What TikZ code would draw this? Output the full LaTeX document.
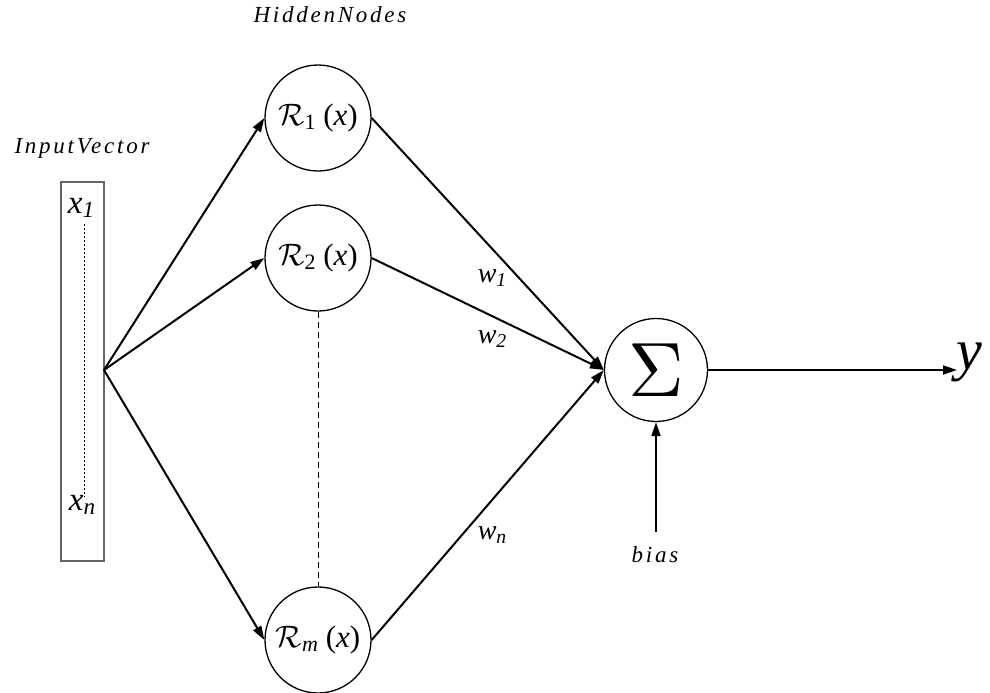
\documentclass[tikz,border=0pt]{standalone}
\usepackage{fontspec}
\setmainfont{Liberation Serif}
\usetikzlibrary{arrows.meta}
\newcommand\lbl[1]{{\addfontfeatures{LetterSpace=12}\itshape #1}}
\newcommand\subs[2]{\itshape #1\raisebox{-0.3ex}{\fontsize{0.7em}{0.7em}\selectfont #2}}
\newcommand\calR{\scalebox{3.1}{\fontsize{10}{12}\selectfont$\mathcal{R}$}}
\begin{document}
\begin{tikzpicture}[x=1pt,y=-1pt,
  hid/.style={circle,draw,line width=1.3pt,minimum size=106pt,inner sep=0pt,font=\fontsize{31}{33}\selectfont},
  conn/.style={line width=2pt,-{Triangle[length=14pt,width=9pt]}},
  lab/.style={font=\fontsize{23}{26}\selectfont,inner sep=0pt}]
\useasboundingbox (0,0) rectangle (990,693);
% input box
\node[draw=black!60,line width=1.5pt,minimum width=43pt,minimum height=379pt,inner sep=0pt] (box) at (82.5,371.5) {};
\node[font=\fontsize{33}{35}\selectfont,inner sep=0pt] (x1) at (81,208) {\subs{x}{1}};
\node[font=\fontsize{33}{35}\selectfont,inner sep=0pt] (xn) at (82,505) {\subs{x}{\itshape n}};
\coordinate (d1) at (84,224);
\coordinate (d2) at (84,497);
\draw[line width=0.8pt,dash pattern=on 2pt off 2pt] (d1) -- (d2);
\coordinate (fan) at (104,370);
% hidden nodes
\node[hid] (r1) at (318,118) {\calR\raisebox{-0.3ex}{\fontsize{22}{22}\selectfont 1} (\textit{x})};
\node[hid] (r2) at (318,258) {\calR\raisebox{-0.3ex}{\fontsize{22}{22}\selectfont 2} (\textit{x})};
\node[hid] (rm) at (318,640) {\calR\raisebox{-0.3ex}{\fontsize{22}{22}\selectfont\itshape m} (\textit{x})};
\draw[line width=1pt,dash pattern=on 6pt off 4pt] (r2.south) -- (rm.north);
% sum
\node[circle,draw,line width=1.3pt,minimum size=103pt,inner sep=0pt] (sum) at (656,370) {\scalebox{7.7}{\fontsize{10}{12}\selectfont$\Sigma$}};
% labels
\node[lab] (hn) at (330,15) {\lbl{HiddenNodes}};
\node[lab] (iv) at (82,148) {\lbl{InputVector}};
\node[lab] (bias) at (655,555) {\lbl{bias}};
\node[font=\fontsize{28}{30}\selectfont,inner sep=0pt] (w1) at (492,278) {\subs{w}{1}};
\node[font=\fontsize{28}{30}\selectfont,inner sep=0pt] (w2) at (492,339) {\subs{w}{2}};
\node[font=\fontsize{28}{30}\selectfont,inner sep=0pt] (wn) at (492,535) {\subs{w}{\itshape n}};
\node[font=\fontsize{58}{58}\selectfont\itshape,inner sep=0pt,anchor=west] (y) at (956,362) {y};
% connectors
\draw[conn] (fan) -- (r1.west);
\draw[conn] (fan) -- (r2.west);
\draw[conn] (fan) -- (rm.west);
\draw[conn] (r1.east) -- (sum.west);
\draw[conn] (r2.east) -- (sum.west);
\draw[conn] (rm.east) -- (sum.west);
\coordinate (yin) at (957,370);
\draw[conn] (sum.east) -- (yin);
\coordinate (bs) at (656,532);
\draw[conn] (bs) -- (sum.south);
\end{tikzpicture}
\end{document}
